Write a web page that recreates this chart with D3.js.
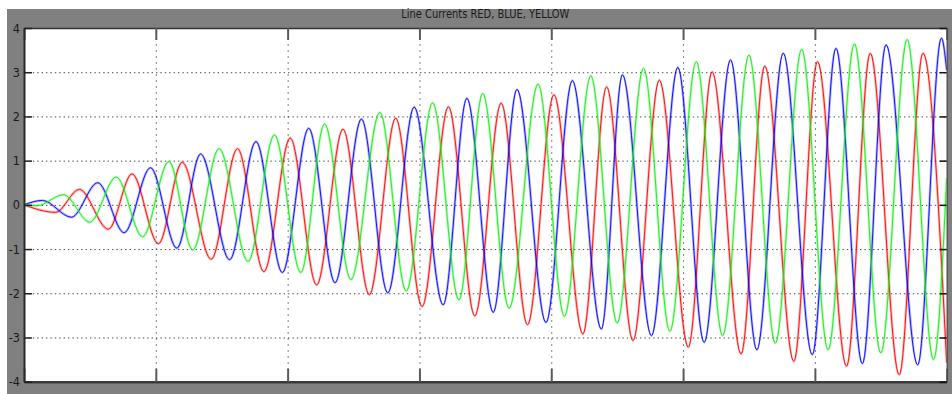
<!DOCTYPE html>
<html>
<head>
<meta charset="utf-8">
<script src="https://cdn.jsdelivr.net/npm/d3@7"></script>
<style>
    html, body { margin: 0; padding: 0; background: #fff; }
    #chart { width: 952px; height: 394px; }
</style>
</head>
<body>
<div id="chart"></div>
<script>
// scope trace, time in ms, current in A (extremes)
const timeTicks = [0, 50, 100, 150, 200, 250, 300, 350];
const currentTicks = [4, 3, 2, 1, 0, -1, -2, -3, -4];
const titleText = 'Line Currents RED, BLUE, YELLOW';

const redTime = [0, 12, 21, 32, 41, 51, 60, 71, 81, 91, 101, 111, 121, 131, 141, 151, 161, 171, 181,
    191, 201, 212, 221, 231, 241, 252, 261, 272, 281, 292, 301, 312, 321, 332, 341, 350];
const redCurrent = [0, -0.17, 0.35, -0.55, 0.70, -0.88, 0.96, -1.23, 1.27, -1.51, 1.51, -1.81, 1.71,
    -2.03, 1.96, -2.30, 2.22, -2.51, 2.30, -2.71, 2.49, -2.92, 2.67, -3.07, 2.82, -3.22, 3.01, -3.37,
    3.14, -3.54, 3.24, -3.65, 3.43, -3.84, 3.43, -3.57];

const blueTime = [0, 7, 18, 28, 38, 48, 58, 67, 78, 88, 98, 108, 118, 128, 138, 148, 159, 168, 178,
    187, 198, 208, 219, 227, 238, 248, 258, 268, 278, 288, 299, 308, 318, 327, 339, 348, 350];
const blueCurrent = [0, 0.10, -0.28, 0.50, -0.63, 0.84, -0.98, 1.15, -1.24, 1.43, -1.53, 1.73, -1.76,
    1.94, -1.99, 2.21, -2.26, 2.41, -2.43, 2.61, -2.66, 2.81, -2.81, 2.94, -2.96, 3.11, -3.11, 3.28,
    -3.28, 3.43, -3.39, 3.54, -3.59, 3.62, -3.62, 3.77, 3.05];

const greenTime = [0, 5, 15, 25, 35, 45, 55, 64, 74, 85, 95, 105, 114, 124, 135, 145, 155, 165, 174,
    184, 195, 205, 215, 225, 235, 245, 255, 265, 275, 285, 295, 305, 315, 325, 335, 345, 350];
const greenCurrent = [0, -0.02, 0.23, -0.39, 0.63, -0.72, 0.98, -1.02, 1.27, -1.28, 1.58, -1.53, 1.83,
    -1.69, 2.09, -1.95, 2.31, -2.15, 2.52, -2.34, 2.73, -2.52, 2.92, -2.67, 3.09, -2.86, 3.24, -2.96,
    3.39, -3.13, 3.52, -3.28, 3.64, -3.35, 3.74, -3.50, 0.60];

class LineCurrentsChart {
    constructor(selector, totalWidth, totalHeight) {
        const frame = { left: 7, top: 9 };
        const margin = { top: 28, right: 5.3, bottom: 12.3, left: 24 };
        const width = totalWidth - margin.left - margin.right;
        const height = totalHeight - margin.top - margin.bottom;
        this.labelFont = "'Liberation Sans Narrow', 'DejaVu Sans Condensed', 'Liberation Sans', sans-serif";

        const root = d3
            .select(selector)
            .append('svg')
            .attr('width', totalWidth)
            .attr('height', totalHeight);

        root.append('rect')
            .attr('x', frame.left)
            .attr('y', frame.top)
            .attr('width', totalWidth - frame.left)
            .attr('height', totalHeight - frame.top)
            .attr('fill', '#808080');

        root.append('text')
            .attr('x', margin.left + width / 2)
            .attr('y', 18)
            .attr('text-anchor', 'middle')
            .attr('font-family', this.labelFont)
            .attr('font-size', 12)
            .attr('fill', '#1c1c1c')
            .attr('textLength', 168)
            .attr('lengthAdjust', 'spacingAndGlyphs')
            .text(titleText);

        this.svg = root.append('g')
            .attr('transform', 'translate(' + margin.left + ',' + margin.top + ')');

        this.svg.append('rect')
            .attr('width', width)
            .attr('height', height)
            .attr('fill', '#fff');

        const x = d3.scaleLinear().domain([0, 350]).range([0, width]);
        const y = d3.scaleLinear().domain([-4, 4]).range([height, 0]);

        this.grid(x, y, width, height);

        this.svg.append('clipPath')
            .attr('id', 'plot-clip')
            .append('rect')
            .attr('width', width)
            .attr('height', height);

        this.drawTrace(redTime, redCurrent, x, y, '#ff0000');
        this.drawTrace(blueTime, blueCurrent, x, y, '#0000ff');
        this.drawTrace(greenTime, greenCurrent, x, y, '#10ee10');

        this.axes(x, y, width, height);
    }

    grid(x, y, width, height) {
        const xGrid = this.svg.append('g')
            .attr('transform', 'translate(0,' + height + ')')
            .call(d3.axisBottom(x)
                .tickValues(timeTicks.slice(1, -1))
                .tickSize(-height)
                .tickFormat(''));
        xGrid.select('.domain').remove();
        xGrid.selectAll('line')
            .attr('stroke', '#4a4a4a')
            .attr('stroke-dasharray', '1.4,4.6');

        const yGrid = this.svg.append('g')
            .call(d3.axisLeft(y)
                .tickValues(currentTicks.slice(1, -1))
                .tickSize(-width)
                .tickFormat(''));
        yGrid.select('.domain').remove();
        yGrid.selectAll('line')
            .attr('stroke', '#4a4a4a')
            .attr('stroke-dasharray', '1.4,3');
    }

    drawTrace(times, currents, x, y, colour) {
        const points = times.map((t, i) => [t, currents[i]]);
        const line = d3.line()
            .curve(d3.curveMonotoneX)
            .x((d) => x(d[0]))
            .y((d) => y(d[1]));

        const g = this.svg.append('g').attr('clip-path', 'url(#plot-clip)');
        g.append('path')
            .datum(points)
            .attr('fill', 'none')
            .attr('stroke', colour)
            .attr('stroke-opacity', 0.28)
            .attr('stroke-width', 2.6)
            .attr('d', line);
        g.append('path')
            .datum(points)
            .attr('fill', 'none')
            .attr('stroke', colour)
            .attr('stroke-width', 0.9)
            .attr('d', line);
    }

    axes(x, y, width, height) {
        const bottom = this.svg.append('g')
            .attr('transform', 'translate(0,' + height + ')')
            .call(d3.axisBottom(x).tickValues(timeTicks).tickSize(-13).tickSizeOuter(0).tickFormat(''));
        const top = this.svg.append('g')
            .call(d3.axisTop(x).tickValues(timeTicks).tickSize(-12).tickSizeOuter(0).tickFormat(''));
        [bottom, top].forEach((axis) => {
            axis.selectAll('line').attr('stroke', '#5a5a5a').attr('stroke-width', 2);
        });
        bottom.select('.domain').attr('stroke', '#3a3a3a').attr('stroke-width', 2.5);
        top.select('.domain').attr('stroke', '#333').attr('stroke-width', 1.5);

        const left = this.svg.append('g')
            .call(d3.axisLeft(y)
                .tickValues(currentTicks)
                .tickSize(-8)
                .tickSizeOuter(0)
                .tickPadding(4)
                .tickFormat((d) => String(d)));
        left.select('.domain').attr('stroke', '#2a2a2a').attr('stroke-width', 2);
        left.selectAll('line').attr('stroke', '#222').attr('stroke-width', 1.5);
        left.selectAll('text')
            .attr('font-family', this.labelFont)
            .attr('font-size', 12.5)
            .attr('fill', '#1a1a1a');

        const right = this.svg.append('g')
            .attr('transform', 'translate(' + width + ',0)')
            .call(d3.axisRight(y).tickValues(currentTicks).tickSize(-7).tickSizeOuter(0).tickFormat(''));
        right.select('.domain').attr('stroke', '#444').attr('stroke-width', 1);
        right.selectAll('line').attr('stroke', '#111').attr('stroke-width', 1.5);
    }
}

new LineCurrentsChart('#chart', 952, 394);
</script>
</body>
</html>
